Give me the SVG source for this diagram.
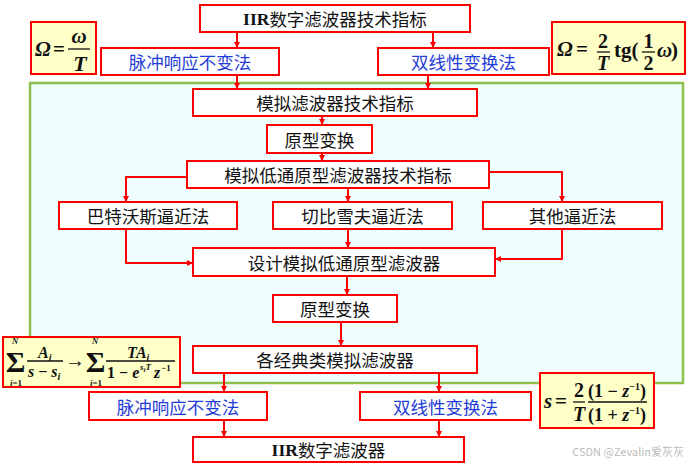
<svg xmlns="http://www.w3.org/2000/svg" width="691" height="465" viewBox="0 0 691 465">
<defs>
<marker id="ah" viewBox="0 0 10 10" refX="10" refY="5" markerWidth="6" markerHeight="6" markerUnits="userSpaceOnUse" orient="auto">
<path d="M0,0 L10,5 L0,10 z" fill="#FF0000"/>
</marker>
</defs>
<style>
.box{fill:#FFFFFF;stroke:#FF0000;stroke-width:2}
.fbox{fill:#FFFFC8;stroke:#FF0000;stroke-width:2}
.t{font-family:"Noto Sans CJK SC","Liberation Sans",sans-serif;font-size:17.5px;fill:#111;text-anchor:middle;dominant-baseline:central}
.b{fill:#1F3CD8}
.rm{font-family:"Liberation Serif",serif;font-weight:bold}
.m{font-family:"Liberation Serif",serif;font-weight:bold;font-style:italic;fill:#111}
.n{font-family:"Liberation Serif",serif;font-weight:bold;fill:#111}
.c path{fill:none;stroke:#FF0000;stroke-width:2;marker-end:url(#ah)}
.bar{stroke:#111;stroke-width:1.3}
</style>
<rect id="bg" x="0" y="0" width="691" height="465" fill="#FFFFFF"/>
<rect id="analog-region" x="30" y="83" width="653" height="300" fill="#EEFEFF" stroke="#8DC04D" stroke-width="2.5"/>

<g id="connectors" class="c">
<path d="M237,32 V48"/>
<path d="M433,32 V48"/>
<path d="M237,75 V89"/>
<path d="M428,75 V89"/>
<path d="M322,116 V125"/>
<path d="M322,153 V161"/>
<path d="M187,177 H126 V202"/>
<path d="M348,188 V202"/>
<path d="M489,172 H562 V202"/>
<path d="M126,229 V263 H193"/>
<path d="M348,229 V248"/>
<path d="M562,229 V259 H495"/>
<path d="M347,276 V295"/>
<path d="M341,322 V346"/>
<path d="M224,373 V392"/>
<path d="M439,373 V392"/>
<path d="M224,420 V437"/>
<path d="M439,420 V437"/>
</g>

<g id="iir-spec"><rect class="box" x="200" y="5" width="270" height="27"/><text class="t" x="335" y="18.5"><tspan class="rm">IIR</tspan>数字滤波器技术指标</text></g>
<g id="impulse-top"><rect class="box" x="101" y="48" width="178" height="27"/><text class="t b" x="190" y="61.5">脉冲响应不变法</text></g>
<g id="bilinear-top"><rect class="box" x="378" y="48" width="171" height="27"/><text class="t b" x="463.5" y="61.5">双线性变换法</text></g>
<g id="analog-spec"><rect class="box" x="193" y="89" width="284" height="27"/><text class="t" x="335" y="102.5">模拟滤波器技术指标</text></g>
<g id="proto-transform-1"><rect class="box" x="267" y="125" width="105" height="28"/><text class="t" x="319.5" y="139">原型变换</text></g>
<g id="lowpass-spec"><rect class="box" x="187" y="161" width="302" height="27"/><text class="t" x="338" y="174.5">模拟低通原型滤波器技术指标</text></g>
<g id="butterworth"><rect class="box" x="59" y="202" width="178" height="27"/><text class="t" x="148" y="215.5">巴特沃斯逼近法</text></g>
<g id="chebyshev"><rect class="box" x="273" y="202" width="179" height="27"/><text class="t" x="362.5" y="215.5">切比雪夫逼近法</text></g>
<g id="other"><rect class="box" x="483" y="202" width="179" height="27"/><text class="t" x="572.5" y="215.5">其他逼近法</text></g>
<g id="design-lowpass"><rect class="box" x="193" y="248" width="302" height="28"/><text class="t" x="344" y="262">设计模拟低通原型滤波器</text></g>
<g id="proto-transform-2"><rect class="box" x="273" y="295" width="124" height="27"/><text class="t" x="335" y="308.5">原型变换</text></g>
<g id="classic-analog"><rect class="box" x="193" y="346" width="284" height="27"/><text class="t" x="335" y="359.5">各经典类模拟滤波器</text></g>
<g id="impulse-bottom"><rect class="box" x="89" y="392" width="178" height="28"/><text class="t b" x="178" y="406">脉冲响应不变法</text></g>
<g id="bilinear-bottom"><rect class="box" x="360" y="392" width="171" height="28"/><text class="t b" x="445.5" y="406">双线性变换法</text></g>
<g id="iir-filter"><rect class="box" x="193" y="437" width="271" height="25"/><text class="t" x="328.5" y="449.5"><tspan class="rm">IIR</tspan>数字滤波器</text></g>

<g id="formula-impulse-freq">
<rect class="fbox" x="31" y="22" width="65" height="52"/>
<text class="m" x="35" y="56" font-size="21">Ω</text>
<text class="n" x="53" y="56" font-size="21">=</text>
<text class="m" x="79" y="43" font-size="21" text-anchor="middle">ω</text>
<line class="bar" x1="68" y1="49" x2="90" y2="49"/>
<text class="m" x="80" y="71" font-size="22" text-anchor="middle">T</text>
</g>

<g id="formula-bilinear-freq">
<rect class="fbox" x="552" y="22" width="133" height="52"/>
<text class="m" x="557" y="56" font-size="21">Ω</text>
<text class="n" x="576" y="56" font-size="21">=</text>
<text class="n" x="603" y="48" font-size="20" text-anchor="middle">2</text>
<line class="bar" x1="597" y1="52" x2="610" y2="52"/>
<text class="m" x="603" y="70" font-size="20" text-anchor="middle">T</text>
<text class="n" x="614" y="57" font-size="21">tg(</text>
<text class="n" x="648.5" y="48" font-size="20" text-anchor="middle">1</text>
<line class="bar" x1="642" y1="52" x2="655" y2="52"/>
<text class="n" x="648.5" y="70" font-size="20" text-anchor="middle">2</text>
<text class="m" x="657" y="57" font-size="21">ω</text>
<text class="n" x="671" y="57" font-size="21">)</text>
</g>

<g id="formula-impulse-map">
<rect class="fbox" x="3" y="337" width="177" height="50"/>
<text class="n" x="15" y="344" font-size="8.5" font-style="italic" text-anchor="middle">N</text>
<text class="n" x="15.5" y="372" font-size="30" text-anchor="middle">Σ</text>
<text class="n" x="16" y="386" font-size="9" text-anchor="middle"><tspan font-style="italic">i</tspan>=1</text>
<text class="m" x="38" y="358" font-size="16">A<tspan font-size="10" dy="3">i</tspan></text>
<line class="bar" x1="27" y1="361" x2="63" y2="361"/>
<text class="m" x="28" y="377" font-size="16">s<tspan font-style="normal"> − </tspan>s<tspan font-size="10" dy="3">i</tspan></text>
<text class="n" x="75" y="367" font-size="20" text-anchor="middle">→</text>
<text class="n" x="95" y="344" font-size="8.5" font-style="italic" text-anchor="middle">N</text>
<text class="n" x="95.5" y="372" font-size="30" text-anchor="middle">Σ</text>
<text class="n" x="96" y="386" font-size="9" text-anchor="middle"><tspan font-style="italic">i</tspan>=1</text>
<text class="m" x="127" y="358" font-size="16">TA<tspan font-size="10" dy="3">i</tspan></text>
<line class="bar" x1="106" y1="361" x2="175" y2="361"/>
<text class="n" x="107" y="378" font-size="16">1 − <tspan font-style="italic">e</tspan></text>
<text class="m" x="140" y="370" font-size="9">s<tspan font-size="7" dy="2">i</tspan><tspan dy="-2">T</tspan></text>
<text class="m" x="154" y="378" font-size="16">z</text>
<text class="n" x="161" y="371" font-size="9">−1</text>
</g>

<g id="formula-bilinear-map">
<rect class="fbox" x="540" y="373" width="114" height="55"/>
<text class="m" x="544" y="408" font-size="21">s</text>
<text class="n" x="555" y="408" font-size="21">=</text>
<text class="n" x="579" y="397" font-size="20" text-anchor="middle">2</text>
<line class="bar" x1="573" y1="402" x2="585" y2="402"/>
<text class="m" x="579" y="421" font-size="20" text-anchor="middle">T</text>
<text class="n" x="588" y="397" font-size="18">(1 − <tspan font-style="italic">z</tspan><tspan font-size="10" dy="-7">−1</tspan><tspan dy="7">)</tspan></text>
<line class="bar" x1="588" y1="402" x2="647" y2="402"/>
<text class="n" x="588" y="421" font-size="18">(1 + <tspan font-style="italic">z</tspan><tspan font-size="10" dy="-7">−1</tspan><tspan dy="7">)</tspan></text>
</g>

<text id="watermark" x="684" y="456" font-family="'Noto Sans CJK SC','Liberation Sans',sans-serif" font-size="11" fill="#BBBBBB" text-anchor="end">CSDN @Zevalin爱灰灰</text>
</svg>
